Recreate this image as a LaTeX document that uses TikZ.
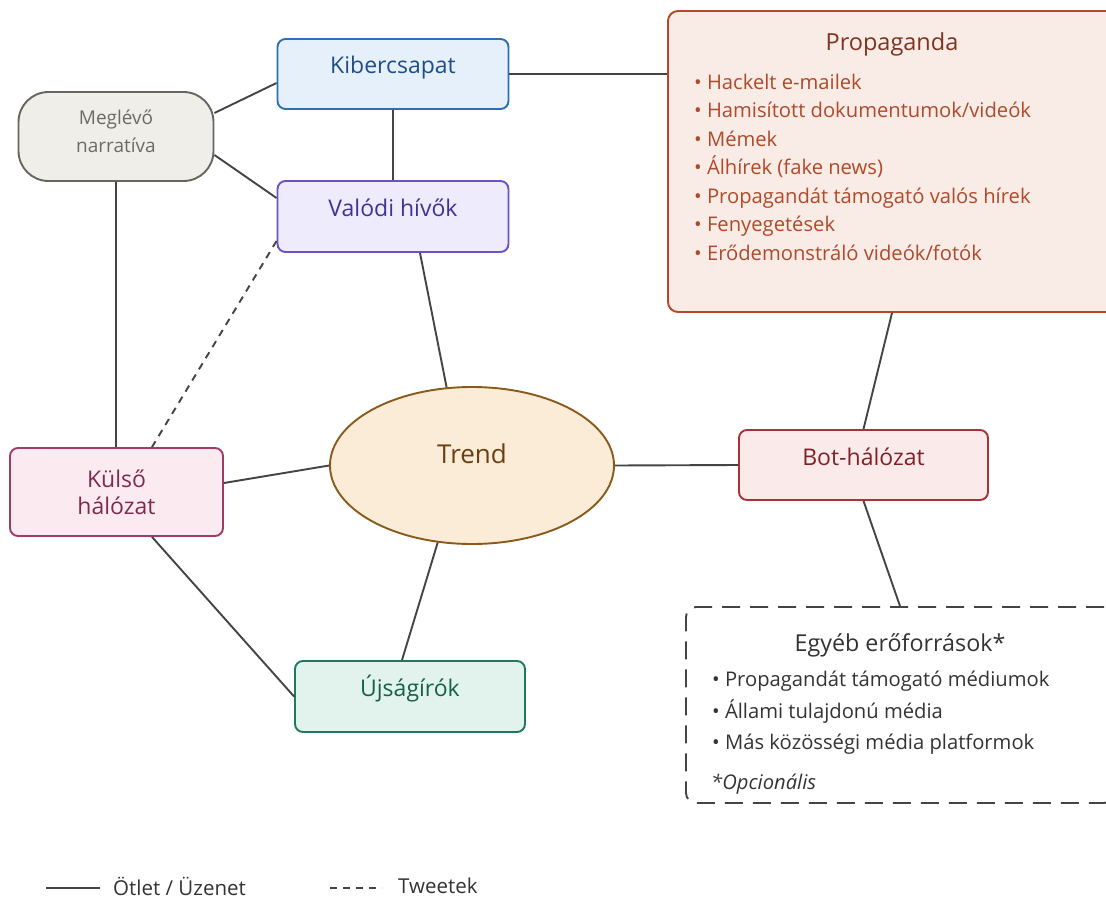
\documentclass[tikz,border=0pt]{standalone}
\usepackage{fontspec}
\setmainfont{Open Sans}
\usetikzlibrary{shapes.geometric,positioning}

\definecolor{linkgray}{HTML}{444444}
\definecolor{kiberfill}{HTML}{E5F0FA}\definecolor{kiberdraw}{HTML}{2E6EB3}\definecolor{kibertext}{HTML}{1F4E8A}
\definecolor{megfill}{HTML}{F0EEE8}\definecolor{megdraw}{HTML}{66665F}\definecolor{megtext}{HTML}{6B6B66}
\definecolor{valfill}{HTML}{EDEBFC}\definecolor{valdraw}{HTML}{6A52C4}\definecolor{valtext}{HTML}{3F3495}
\definecolor{trendfill}{HTML}{FBECD8}\definecolor{trenddraw}{HTML}{8A5A1A}\definecolor{trendtext}{HTML}{6B3F12}
\definecolor{botfill}{HTML}{FBEAEA}\definecolor{botdraw}{HTML}{A8323C}\definecolor{bottext}{HTML}{7F2129}
\definecolor{kulfill}{HTML}{FBEAF0}\definecolor{kuldraw}{HTML}{A33A66}\definecolor{kultext}{HTML}{7F2B4F}
\definecolor{ujsfill}{HTML}{E1F3EC}\definecolor{ujsdraw}{HTML}{1F7A5B}\definecolor{ujstext}{HTML}{16604A}
\definecolor{propfill}{HTML}{F9EBE5}\definecolor{propdraw}{HTML}{B5472C}\definecolor{proptitle}{HTML}{7F3420}\definecolor{proptext}{HTML}{B04A2A}
\definecolor{egytext}{HTML}{333333}

\begin{document}
\begin{tikzpicture}[x=1pt, y=-1pt,
                every node/.style={font=\fontsize{23}{27}\selectfont},
                box/.style={draw, rounded corners=8pt, line width=1.9pt, inner sep=0pt, align=center, text height=15pt, text depth=15pt},
                twoline/.style={draw, rounded corners=8pt, line width=1.9pt, inner sep=0pt, align=center, font=\fontsize{23}{27}\selectfont},
                listtext/.style={inner sep=0pt, align=left, font=\fontsize{20.2}{28.5}\selectfont},
                link/.style={draw=linkgray, line width=1.9pt},
                tweet/.style={link, dash pattern=on 7pt off 6pt}
            ]
                \useasboundingbox (0,0) rectangle (1106,899);
                \clip (0,0) rectangle (1106,899);

                % Propaganda box (runs off the right edge)
                \node[draw=propdraw, fill=propfill, rounded corners=10pt, line width=1.9pt, minimum width=448pt, minimum height=301pt] (prop) at (892,161.5) {};
                \node[text=proptitle, inner sep=0pt, font=\fontsize{23.5}{27}\selectfont] (proptitle) at (892,44) {Propaganda};
                \node[listtext, text=proptext, anchor=north west] (proplist) at (694,73.5) {• Hackelt e-mailek\\• Hamisított dokumentumok/videók\\• Mémek\\• Álhírek (fake news)\\• Propagandát támogató valós hírek\\• Fenyegetések\\• Erődemonstráló videók/fotók};

                % Egyéb erőforrások (dashed, optional)
                \node[draw=linkgray, line width=1.9pt, dash pattern=on 18pt off 10pt, rounded corners=10pt, minimum width=428pt, minimum height=196pt] (egy) at (900,705) {};
                \node[text=egytext, inner sep=0pt, font=\fontsize{23.3}{27}\selectfont] (egytitle) at (900,645) {Egyéb erőforrások*};
                \node[listtext, text=egytext, anchor=north west, font=\fontsize{20.2}{31.5}\selectfont] (egylist) at (712,671) {• Propagandát támogató médiumok\\• Állami tulajdonú média\\• Más közösségi média platformok};
                \node[listtext, text=egytext, anchor=west, font=\fontsize{20.2}{24}\selectfont\itshape] (egynote) at (711,784) {*Opcionális};

                % Actors
                \node[box, draw=kiberdraw, fill=kiberfill, text=kibertext, minimum width=231pt, minimum height=70pt] (kiber) at (393,74) {Kibercsapat};
                \node[twoline, draw=megdraw, fill=megfill, text=megtext, rounded corners=30pt, minimum width=195pt, minimum height=89pt, text depth=10pt, font=\fontsize{19}{28}\selectfont] (meg) at (116,136.5) {Meglévő\\narratíva};
                \node[box, draw=valdraw, fill=valfill, text=valtext, minimum width=231pt, minimum height=71pt] (val) at (393,216.5) {Valódi hívők};
                \node[ellipse, draw=trenddraw, fill=trendfill, text=trendtext, line width=1.9pt, inner sep=0pt, minimum width=284pt, minimum height=157pt, text height=15pt, text depth=19pt, font=\fontsize{26}{30}\selectfont] (trend) at (472,465.5) {Trend};
                \node[box, draw=botdraw, fill=botfill, text=bottext, minimum width=249pt, minimum height=70pt] (bot) at (863.5,465) {Bot-hálózat};
                \node[twoline, draw=kuldraw, fill=kulfill, text=kultext, minimum width=213pt, minimum height=88pt] (kul) at (116.5,492) {Külső\\hálózat};
                \node[box, draw=ujsdraw, fill=ujsfill, text=ujstext, minimum width=230pt, minimum height=71pt] (ujs) at (410,696.5) {Újságírók};

                % Ideas / messages
                \draw[link] ([yshift=23.5pt]meg.east) -- ([yshift=-9pt]kiber.west);
                \draw[link] ([yshift=-18.5pt]meg.east) -- ([yshift=18.5pt]val.west);
                \draw[link] (kiber.south) -- (val.north);
                \draw[link] (kiber.east) -- (kiber.east -| prop.west);
                \draw[link] (meg.south) -- (meg.south |- kul.north);
                \draw[link] ([xshift=27pt]val.south) -- (trend.108);
                \draw[link] ([yshift=9pt]kul.east) -- (trend.west);
                \draw[link] ([xshift=35.5pt]kul.south) -- (ujs.west);
                \draw[link] (trend.246) -- ([xshift=-8pt]ujs.north);
                \draw[link] (trend.east) -- (bot.west);
                \draw[link] (prop.south) -- (bot.north);
                \draw[link] (bot.south) -- (egy.north);

                % Tweets
                \draw[tweet] ([yshift=-24.5pt]val.west) -- ([xshift=35.5pt]kul.north);

                % Legend
                \node[anchor=west, inner sep=0pt, text=egytext, font=\fontsize{20.5}{24}\selectfont] (legidea) at (113,886) {Ötlet / Üzenet};
                \node[anchor=west, inner sep=0pt, text=egytext, font=\fontsize{20.5}{24}\selectfont] (legtweet) at (398,886) {Tweetek};
                \draw[link] ([xshift=-67pt,yshift=-2pt]legidea.west) -- ([xshift=-13pt,yshift=-2pt]legidea.west);
                \draw[tweet] ([xshift=-68pt,yshift=-2pt]legtweet.west) -- ([xshift=-16pt,yshift=-2pt]legtweet.west);
\end{tikzpicture}
\end{document}
